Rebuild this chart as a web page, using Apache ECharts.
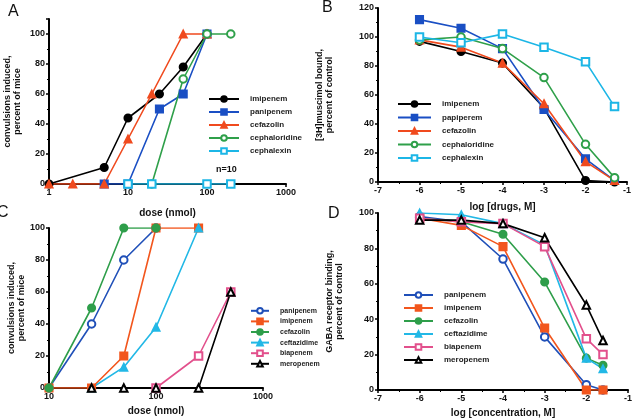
<!DOCTYPE html>
<html>
<head>
<meta charset="utf-8">
<script src="https://cdn.jsdelivr.net/npm/echarts@6/dist/echarts.min.js"></script>
<style>
  html, body { margin: 0; padding: 0; background: #fff; }
  #chart { width: 635px; height: 419px; }
</style>
</head>
<body>
<div id="chart"></div>
<script>
// panel A: convulsions vs dose
var aNames = ['imipenem', 'panipenem', 'cefazolin', 'cephaloridine', 'cephalexin'];
var aX = [[1, 5, 10, 25, 50, 100], [5, 10, 25, 50, 100], [1, 2, 5, 10, 20, 50, 100], [20, 50, 100, 200], [10, 20, 100, 200]];
var aY = [[0, 11, 44, 60, 78, 100], [0, 0, 50, 60, 100], [0, 0, 0, 30, 60, 100, 100], [0, 70, 100, 100], [0, 0, 0, 0]];

// panel B: [3H]muscimol binding
var bNames = ['imipenem', 'papiperem', 'cefazolin', 'cephaloridine', 'cephalexin'];
var bX = [-6, -5, -4, -3, -2, -1.3];
var bY = [[97, 90, 82, 51, 1, 0], [112, 106, 92, 50, 16, 1], [98, 93, 82, 54, 14, 1], [98, 100, 92, 72, 26, 3], [100, 96, 102, 93, 83, 52]];

// panel C: convulsions vs dose
var cNames = ['panipenem', 'imipenem', 'cefazolin', 'ceftazidime', 'biapenem', 'meropenem'];
var cX = [[10, 25, 50, 100], [10, 25, 50, 100, 250], [10, 25, 50, 100], [25, 50, 100, 250], [100, 250, 500], [25, 50, 100, 250, 500]];
var cY = [[0, 40, 80, 100], [0, 0, 20, 100, 100], [0, 50, 100, 100], [0, 13, 38, 100], [0, 20, 60], [0, 0, 0, 0, 60]];

// panel D: GABA receptor binding
var dNames = ['panipenem', 'imipenem', 'cefazolin', 'ceftazidime', 'biapenem', 'meropenem'];
var dX = [-6, -5, -4, -3, -2, -1.6];
var dY = [[98, 95, 74, 30, 3, 0], [97, 93, 81, 35, 0, 0], [97, 95, 88, 61, 18, 14], [100, 99, 94, 82, 18, 12], [97, 95, 94, 81, 29, 20], [96, 96, 94, 86, 48, 28]];

var abColors = ['#000000', '#1a4fc4', '#f04a1e', '#2fa04a', '#1cb6e6'];
var abSymbols = ['circle', 'rect', 'triangle', 'emptyCircle', 'emptyRect'];
var cdColors = ['#1f4fb8', '#f2561d', '#2e9e4a', '#22b8e6', '#e2508c', '#000000'];
var cdSymbols = ['emptyCircle', 'rect', 'circle', 'triangle', 'emptyRect', 'emptyTriangle'];

var font = 'Liberation Sans, Arial, sans-serif';

function makeSeries(panel, idx, names, xs, ys, colors, symbols, shared) {
    var list = [];
    for (var i = 0; i < names.length; i++) {
        var data = [];
        var xr = shared ? xs : xs[i];
        for (var j = 0; j < ys[i].length; j++) {
            data.push([xr[j], ys[i][j]]);
        }
        list.push({
            type: 'line',
            name: panel + '|' + names[i],
            xAxisIndex: idx,
            yAxisIndex: idx,
            data: data,
            symbol: symbols[i],
            symbolSize: 7.5,
            color: colors[i],
            lineStyle: { width: 1.6, color: colors[i] },
            itemStyle: { color: colors[i], borderColor: colors[i], borderWidth: 1.6 },
            animation: false
        });
    }
    return list;
}

function xAxisOf(idx, type, min, max, name, gap) {
    return {
        type: type,
        gridIndex: idx,
        min: min,
        max: max,
        interval: type === 'value' ? 1 : undefined,
        logBase: 10,
        name: name,
        nameLocation: 'middle',
        nameGap: gap,
        nameTextStyle: { fontFamily: font, fontSize: 10, fontWeight: 'bold', color: '#111' },
        axisLine: { lineStyle: { color: '#000', width: 2 } },
        axisTick: { length: 3, lineStyle: { color: '#000', width: 1.5 } },
        minorTick: { show: type === 'value', splitNumber: 2, length: 2, lineStyle: { color: '#000' } },
        splitLine: { show: false },
        axisLabel: {
            fontFamily: font, fontSize: 9, fontWeight: 'bold', color: '#111', margin: 4,
            formatter: function (v) { return String(v); }
        }
    };
}

function yAxisOf(idx, max, name, gap, hideMax) {
    return {
        type: 'value',
        gridIndex: idx,
        min: 0,
        max: max,
        interval: 20,
        name: name,
        nameLocation: 'middle',
        nameRotate: 90,
        nameGap: gap,
        nameTextStyle: { fontFamily: font, fontSize: 9, fontWeight: 'bold', color: '#111', lineHeight: 10 },
        axisLine: { show: true, lineStyle: { color: '#000', width: 2 } },
        axisTick: { length: 3, lineStyle: { color: '#000', width: 1.5 } },
        minorTick: { show: true, splitNumber: 2, length: 2, lineStyle: { color: '#000' } },
        splitLine: { show: false },
        axisLabel: {
            fontFamily: font, fontSize: 9, fontWeight: 'bold', color: '#111', margin: 4,
            showMaxLabel: !hideMax
        }
    };
}

function legendOf(panel, names, left, top, w, gap, size) {
    return {
        orient: 'vertical',
        left: left,
        top: top,
        itemWidth: w,
        itemHeight: 7,
        itemGap: gap,
        data: names.map(function (n) { return panel + '|' + n; }),
        formatter: function (n) { return n.split('|')[1]; },
        selectedMode: false,
        textStyle: { fontFamily: font, fontSize: size, fontWeight: 'bold', color: '#222', padding: [0, 0, 0, 6] }
    };
}

var chart = echarts.init(document.getElementById('chart'));
var option = {
    backgroundColor: '#fff',
    animation: false,
    grid: [
        { left: 49, top: 19, width: 237, height: 165 },
        { left: 378, top: 8, width: 249, height: 174 },
        { left: 49, top: 228, width: 214, height: 160 },
        { left: 378, top: 213, width: 253, height: 178 }
    ],
    xAxis: [
        xAxisOf(0, 'log', 1, 1000, 'dose (nmol)', 24),
        xAxisOf(1, 'value', -7, -1, 'log [drugs, M]', 20),
        xAxisOf(2, 'log', 10, 1000, 'dose (nmol)', 18),
        xAxisOf(3, 'value', -7, -1, 'log [concentration, M]', 18)
    ],
    yAxis: [
        yAxisOf(0, 110, 'convulsions induced,\npercent of mice', 26, true),
        yAxisOf(1, 120, '[3H]muscimol bound,\npercent of control', 43, false),
        yAxisOf(2, 100, 'convulsions induced,\npercent of mice', 21, false),
        yAxisOf(3, 100, 'GABA receptor binding,\npercent of control', 33, false)
    ],
    legend: [
        legendOf('A', aNames, 203, 90, 30, 5, 8),
        legendOf('B', bNames, 392, 95, 33, 5.5, 8),
        legendOf('C', cNames, 245, 302, 18, 3, 7),
        legendOf('D', dNames, 398, 286, 29, 5, 8)
    ],
    graphic: [
        { type: 'text', left: 8, top: 4, style: { text: 'A', fontFamily: font, fontSize: 16, fill: '#111' } },
        { type: 'text', left: 322, top: 0, style: { text: 'B', fontFamily: font, fontSize: 16, fill: '#111' } },
        { type: 'text', left: -3, top: 205, style: { text: 'C', fontFamily: font, fontSize: 16, fill: '#111' } },
        { type: 'text', left: 328, top: 206, style: { text: 'D', fontFamily: font, fontSize: 16, fill: '#111' } },
        { type: 'text', left: 216, top: 165, style: { text: 'n=10', fontFamily: font, fontSize: 9, fontWeight: 'bold', fill: '#111' } }
    ],
    series: [].concat(
        makeSeries('A', 0, aNames, aX, aY, abColors, abSymbols, false),
        makeSeries('B', 1, bNames, bX, bY, abColors, abSymbols, true),
        makeSeries('C', 2, cNames, cX, cY, cdColors, cdSymbols, false),
        makeSeries('D', 3, dNames, dX, dY, cdColors, cdSymbols, true)
    )
};
chart.setOption(option);
</script>
</body>
</html>
